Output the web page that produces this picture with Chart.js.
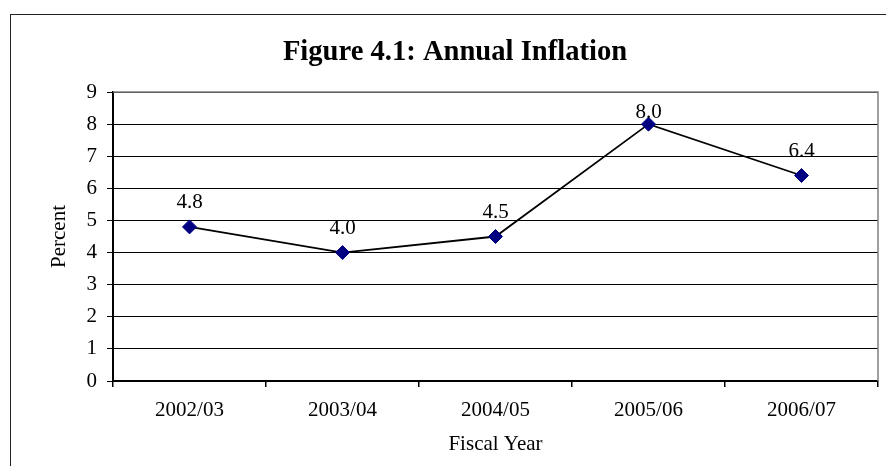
<!DOCTYPE html>
<html>
<head>
<meta charset="utf-8">
<script src="https://cdn.jsdelivr.net/npm/chart.js@4/dist/chart.umd.min.js"></script>
<style>
  html, body { margin: 0; padding: 0; background: #fff; }
  #wrap { width: 886px; height: 466px; }
</style>
</head>
<body>
<div id="wrap"><canvas id="lineChart"></canvas></div>
<script>
const fiscalYears = ["2002/03", "2003/04", "2004/05", "2005/06", "2006/07"];
const inflation = [4.8, 4.0, 4.5, 8.0, 6.4];
const yTicks = [0, 1, 2, 3, 4, 5, 6, 7, 8, 9];

const serif = "'Liberation Serif', 'Times New Roman', serif";

// frame round the whole chart + grey plot area border
const framePlugin = {
  id: "frame",
  beforeDraw(chart) {
    const ctx = chart.ctx;
    ctx.save();
    ctx.fillStyle = "#fff";
    ctx.fillRect(0, 0, chart.width, chart.height);
    ctx.strokeStyle = "#222";
    ctx.lineWidth = 1;
    ctx.strokeRect(10.5, 14.5, 1000, 1000);
    ctx.restore();
  },
  beforeDatasetsDraw(chart) {
    const { ctx, chartArea } = chart;
    ctx.save();
    ctx.strokeStyle = "#808080";
    ctx.lineWidth = 1.5;
    ctx.beginPath();
    ctx.moveTo(chartArea.left, chartArea.top);
    ctx.lineTo(chartArea.right, chartArea.top);
    ctx.lineTo(chartArea.right, chartArea.bottom);
    ctx.stroke();
    ctx.restore();
  },
};

// value labels above each point
const valueLabels = {
  id: "valueLabels",
  afterDatasetsDraw(chart) {
    const { ctx, chartArea } = chart;
    const meta = chart.getDatasetMeta(0);
    ctx.save();
    ctx.font = "21px " + serif;
    ctx.fillStyle = "#000";
    ctx.textAlign = "center";
    ctx.textBaseline = "middle";
    meta.data.forEach((pt, i) => {
      const y = Math.max(pt.y - 24, chartArea.top + 20);
      ctx.fillText(inflation[i].toFixed(1), pt.x, y);
    });
    ctx.restore();
  },
};

new Chart(document.getElementById("lineChart"), {
  type: "line",
  data: {
    labels: fiscalYears,
    datasets: [
      {
        data: inflation,
        borderColor: "#000",
        borderWidth: 1.8,
        pointStyle: "rectRot",
        pointRadius: 7,
        pointBackgroundColor: "#000080",
        pointBorderColor: "#000080",
        pointBorderWidth: 1,
        tension: 0,
        fill: false,
      },
    ],
  },
  options: {
    responsive: true,
    maintainAspectRatio: false,
    animation: false,
    layout: { padding: { left: 32, right: 8, top: 0, bottom: 0 } },
    plugins: {
      legend: { display: false },
      tooltip: { enabled: false },
      title: {
        display: true,
        text: "Figure 4.1: Annual Inflation",
        color: "#000",
        font: { family: serif, size: 28.6, weight: "bold" },
        padding: { top: 35, bottom: 22.7 },
      },
    },
    scales: {
      x: {
        offset: true,
        grid: {
          offset: true,
          drawOnChartArea: false,
          drawTicks: true,
          tickLength: 6,
          color: "#000",
          lineWidth: 1.5,
        },
        border: { color: "#000", width: 2 },
        ticks: {
          color: "#000",
          font: { family: serif, size: 21 },
          padding: 11,
          maxRotation: 0,
        },
        title: {
          display: true,
          text: "Fiscal Year",
          color: "#000",
          font: { family: serif, size: 21 },
          padding: { top: 0, bottom: 9 },
        },
        afterFit(scale) {
          scale.height = 85;
        },
      },
      y: {
        min: 0,
        max: 9,
        afterBuildTicks(scale) {
          scale.ticks = yTicks.map((v) => ({ value: v }));
        },
        grid: {
          color: "#000",
          lineWidth: 1,
          tickLength: 6,
        },
        border: { color: "#000", width: 2 },
        ticks: {
          color: "#000",
          font: { family: serif, size: 21 },
          padding: 10,
        },
        title: {
          display: true,
          text: "Percent",
          color: "#000",
          font: { family: serif, size: 21 },
          padding: { top: 15, bottom: 0 },
        },
        afterFit(scale) {
          scale.width = 81;
        },
      },
    },
  },
  plugins: [framePlugin, valueLabels],
});
</script>
</body>
</html>
